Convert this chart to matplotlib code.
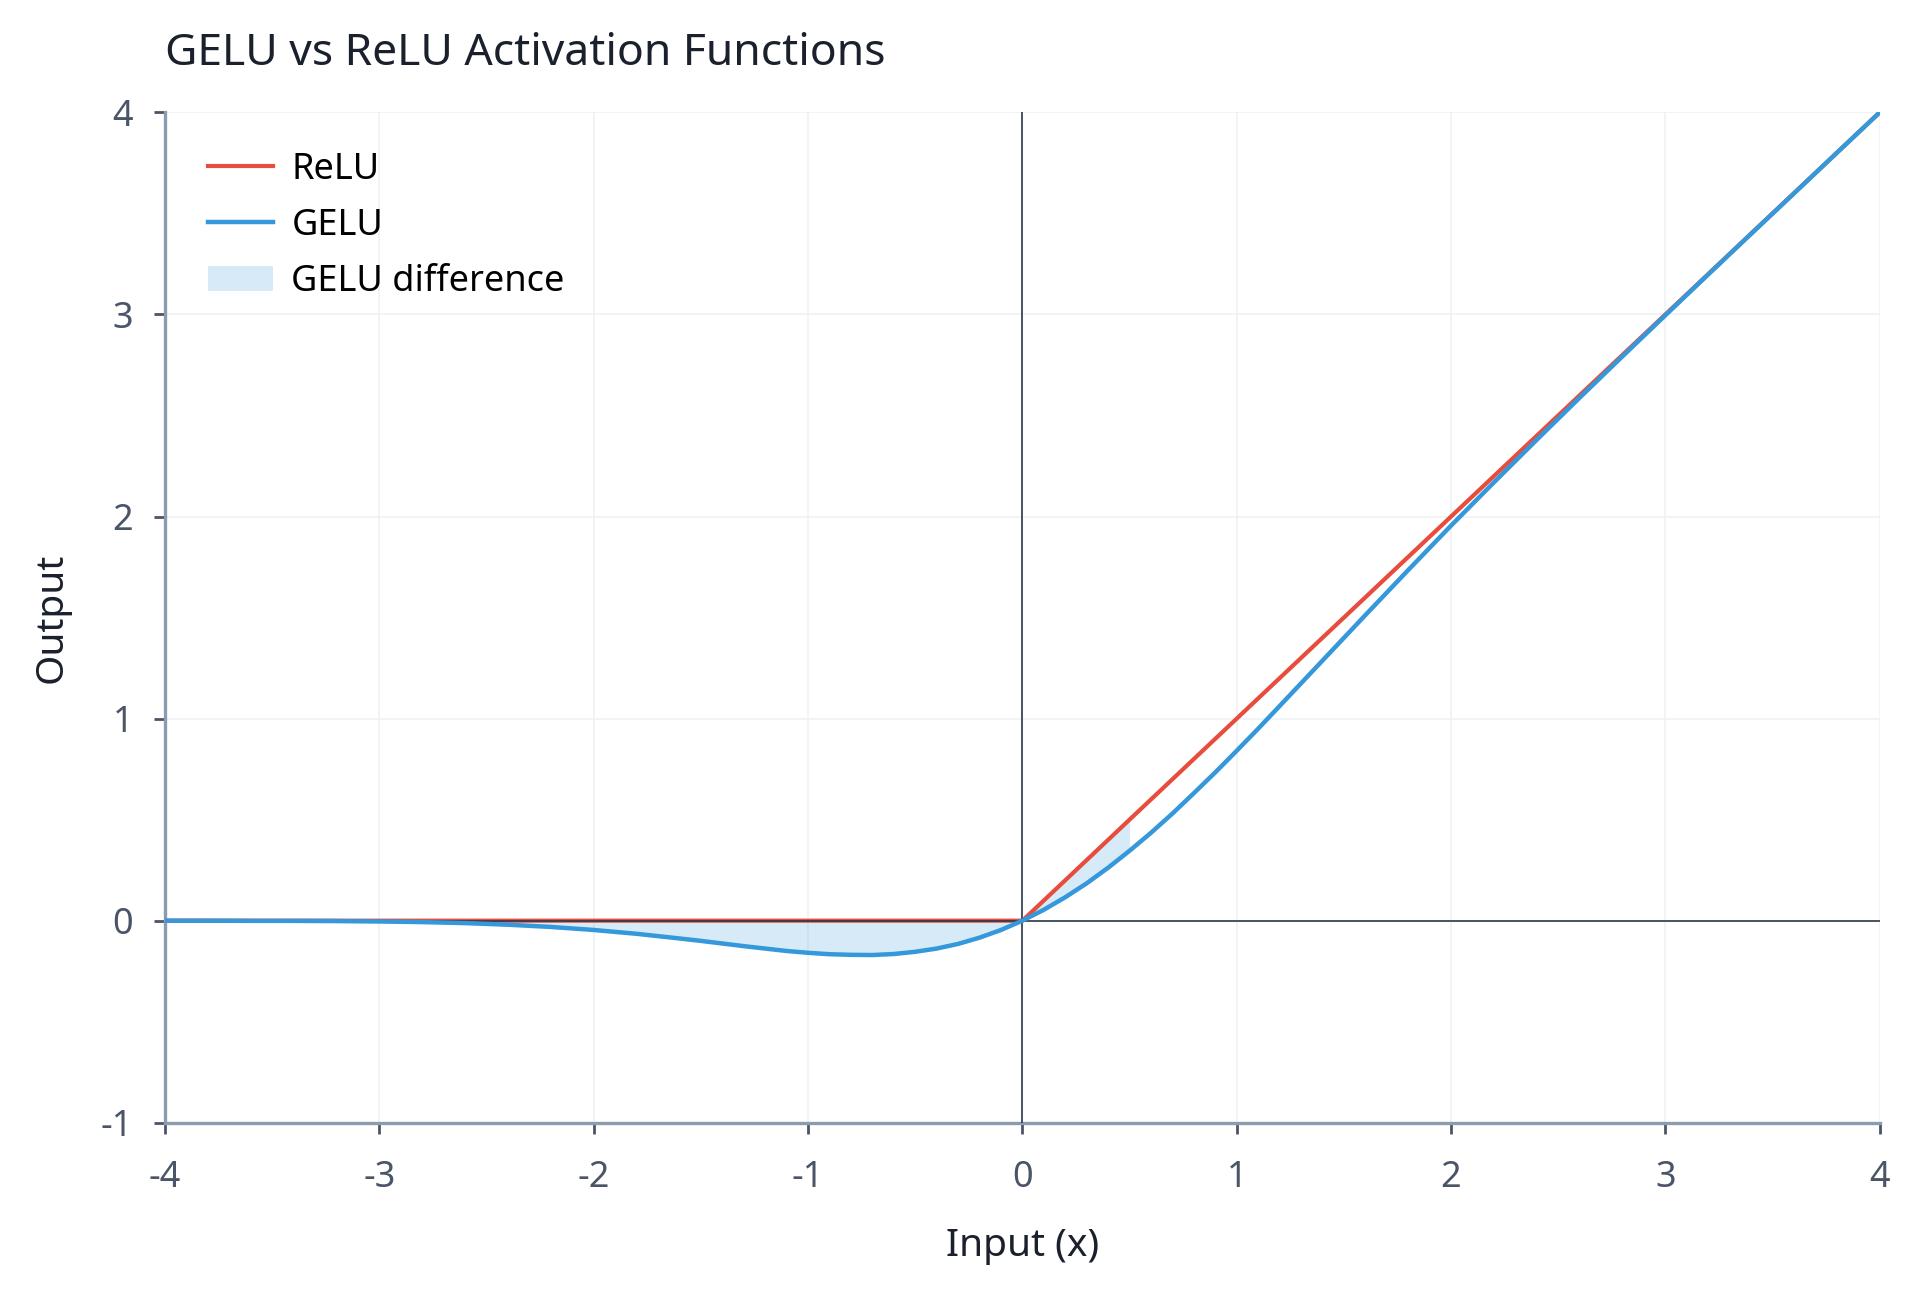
import matplotlib
matplotlib.use("Agg")
import matplotlib.pyplot as plt

# values
x_vals = [-4.0, -3.8, -3.6, -3.4, -3.2, -3.0, -2.8, -2.6, -2.4, -2.2, -2.0,
          -1.8, -1.6, -1.5, -1.4, -1.3, -1.2, -1.1, -1.0, -0.9, -0.8, -0.7,
          -0.6, -0.5, -0.4, -0.3, -0.2, -0.1, 0.0,
          0.1, 0.2, 0.3, 0.4, 0.5, 0.6, 0.7, 0.8, 0.9, 1.0, 1.1, 1.2,
          1.4, 1.6, 1.8, 2.0, 2.2, 2.4, 2.6, 2.8, 3.0, 3.2, 3.4, 3.6,
          3.8, 4.0]
relu_vals = [0.0, 0.0, 0.0, 0.0, 0.0, 0.0, 0.0, 0.0, 0.0, 0.0, 0.0,
             0.0, 0.0, 0.0, 0.0, 0.0, 0.0, 0.0, 0.0, 0.0, 0.0, 0.0,
             0.0, 0.0, 0.0, 0.0, 0.0, 0.0, 0.0,
             0.1, 0.2, 0.3, 0.4, 0.5, 0.6, 0.7, 0.8, 0.9, 1.0, 1.1, 1.2,
             1.4, 1.6, 1.8, 2.0, 2.2, 2.4, 2.6, 2.8, 3.0, 3.2, 3.4, 3.6,
             3.8, 4.0]
gelu_vals = [-0.000, -0.000, -0.001, -0.001, -0.002, -0.004, -0.007, -0.012,
             -0.020, -0.031, -0.046, -0.065, -0.088, -0.100, -0.113, -0.126,
             -0.138, -0.150, -0.159, -0.166, -0.169, -0.170, -0.165, -0.154,
             -0.138, -0.115, -0.084, -0.046, 0.000,
             0.054, 0.116, 0.185, 0.262, 0.346, 0.435, 0.530, 0.631, 0.734,
             0.841, 0.950, 1.062, 1.287, 1.512, 1.735, 1.955, 2.169, 2.380,
             2.588, 2.793, 2.996, 3.198, 3.399, 3.599, 3.800, 4.000]
fill_until = 0.5

x_ticks = [-4, -3, -2, -1, 0, 1, 2, 3, 4]
y_ticks = [-1, 0, 1, 2, 3, 4]

RED = "#e74c3c"
BLUE = "#3498db"
DARK = "#2d3748"
SPINE = "#8c9bb0"
TICKTXT = "#4a5568"

plt.rcParams["font.family"] = ["Noto Sans", "DejaVu Sans"]
plt.rcParams["axes.unicode_minus"] = False

fig = plt.figure(figsize=(19.2, 12.92), dpi=100)
ax = fig.add_axes([0.086, 0.131, 0.893, 0.782])

ax.plot(x_vals, relu_vals, color=RED, lw=3.0, label="ReLU", zorder=3)
ax.plot(x_vals, gelu_vals, color=BLUE, lw=3.2, label="GELU", zorder=4)
mask = [v <= fill_until for v in x_vals]
ax.fill_between(x_vals, relu_vals, gelu_vals, where=mask, color=BLUE,
                alpha=0.2, lw=0, label="GELU difference", zorder=2)

ax.axhline(0, color=DARK, lw=1.2, zorder=3.5)
ax.axvline(0, color=DARK, lw=1.2, zorder=3.5)

ax.set_xlim(-4, 4)
ax.set_ylim(-1, 4)
ax.set_xticks(x_ticks)
ax.set_yticks(y_ticks)
ax.grid(True, color="#eef2f6", lw=1.2, zorder=0)

for side in ["top", "right"]:
    ax.spines[side].set_visible(False)
for side in ["left", "bottom"]:
    ax.spines[side].set_color(SPINE)
    ax.spines[side].set_linewidth(2.4)
ax.tick_params(axis="both", direction="out", length=8, width=2.0,
               color="#4a5568", labelsize=26, labelcolor=TICKTXT)
ax.tick_params(axis="x", pad=19)
ax.tick_params(axis="y", pad=15)

ax.set_xlabel("Input (x)", fontsize=28, color="#1a202c", labelpad=22)
ax.set_ylabel("Output", fontsize=28, color="#1a202c", labelpad=22)
ax.set_title("GELU vs ReLU Activation Functions", fontsize=32, color="#1a202c",
             loc="left", pad=34)

ax.legend(loc="upper left", bbox_to_anchor=(0.002, 1.0), frameon=False,
          fontsize=26, handlelength=1.8, handletextpad=0.5, labelspacing=0.55,
          borderaxespad=0.7)

fig.savefig("out.png", dpi=100)
